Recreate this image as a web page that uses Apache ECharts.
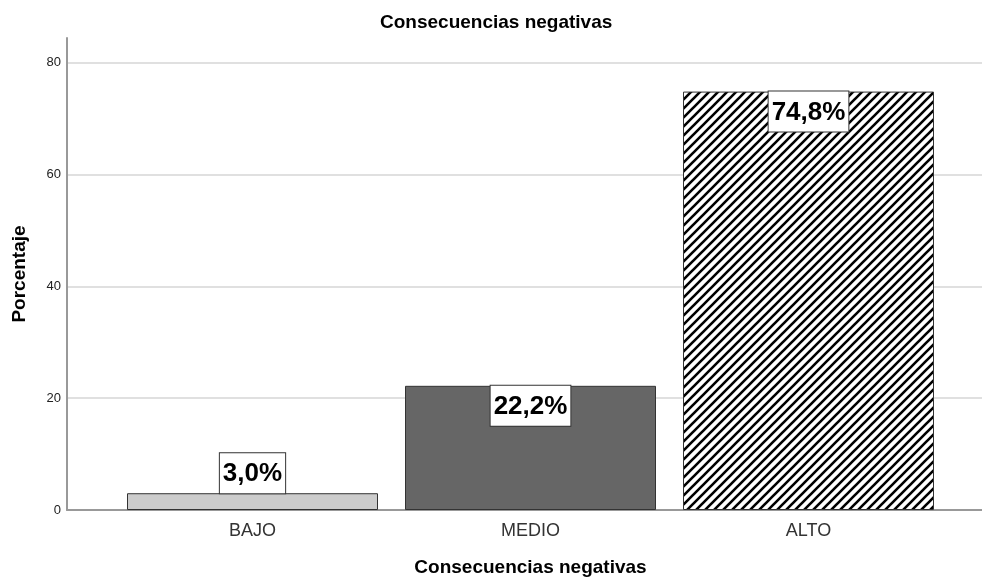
<!DOCTYPE html>
<html>
<head>
<meta charset="utf-8">
<script src="https://cdn.jsdelivr.net/npm/echarts@6/dist/echarts.min.js"></script>
<style>
html,body{margin:0;padding:0;background:#fff;}
#chart{width:982px;height:577px;}
</style>
</head>
<body>
<div id="chart"></div>
<script>
// ---- data ----
const categories = ['BAJO', 'MEDIO', 'ALTO'];
const values = [3.0, 22.2, 74.8];
const yTicks = [0, 20, 40, 60, 80];
const chartTitle = 'Consecuencias negativas';
const xAxisTitle = 'Consecuencias negativas';
const yAxisTitle = 'Porcentaje';

// ---- styles ----
function hatch() {
  const c = document.createElement('canvas');
  const s = 9;
  c.width = s; c.height = s;
  const g = c.getContext('2d');
  g.fillStyle = '#fff';
  g.fillRect(0, 0, s, s);
  g.strokeStyle = '#000';
  g.lineWidth = 2.6;
  g.beginPath();
  g.moveTo(-s, s); g.lineTo(s, -s);
  g.moveTo(0, s); g.lineTo(s, 0);
  g.moveTo(0, 2 * s); g.lineTo(2 * s, 0);
  g.stroke();
  return c;
}
const fills = ['#cccccc', '#666666', { image: hatch(), repeat: 'repeat' }];
const FONT = 'Liberation Sans, Arial, sans-serif';

const chart = echarts.init(document.getElementById('chart'), null, { renderer: 'canvas' });

const barData = values.map((v, i) => ({
  value: v,
  itemStyle: { color: fills[i], borderColor: '#333', borderWidth: 1 },
  label: { position: v < 10 ? 'top' : 'insideTop', distance: 0 }
}));

const option = {
  animation: false,
  backgroundColor: '#fff',
  title: {
    text: chartTitle,
    left: 380, top: 13, padding: 0,
    textStyle: { fontFamily: FONT, fontSize: 19, fontWeight: 'bold', color: '#000' }
  },
  grid: [
    { left: 67, right: 0, top: 38, bottom: 67, containLabel: false, outerBoundsMode: 'none' },
    { left: 67, right: 0, top: 62.5, bottom: 67, containLabel: false, outerBoundsMode: 'none' },
    { left: 113.5, width: 834, top: 62.5, bottom: 67, containLabel: false, outerBoundsMode: 'none' }
  ],
  xAxis: [
    { gridIndex: 0, type: 'value', min: 0, max: 1, show: false },
    { gridIndex: 1, type: 'value', min: 0, max: 1,
      axisLine: { show: true, onZero: false, lineStyle: { color: '#999', width: 2 } },
      axisTick: { show: false }, axisLabel: { show: false }, splitLine: { show: false } },
    { gridIndex: 2, type: 'category', data: categories,
      axisLine: { show: false }, axisTick: { show: false }, splitLine: { show: false },
      axisLabel: { fontFamily: FONT, fontSize: 18, color: '#333', margin: 12 },
      name: xAxisTitle, nameLocation: 'middle', nameGap: 48,
      nameTextStyle: { fontFamily: FONT, fontSize: 19, fontWeight: 'bold', color: '#000' } }
  ],
  yAxis: [
    { gridIndex: 0, type: 'value', min: 0, max: 1,
      axisLine: { show: true, lineStyle: { color: '#999', width: 2 } },
      axisTick: { show: false }, axisLabel: { show: false }, splitLine: { show: false },
      name: yAxisTitle, nameLocation: 'middle', nameGap: 38, nameRotate: 90,
      nameTextStyle: { fontFamily: FONT, fontSize: 19, fontWeight: 'bold', color: '#000' } },
    { gridIndex: 1, type: 'value', min: yTicks[0], max: yTicks[yTicks.length - 1], interval: 20,
      axisLine: { show: false }, axisTick: { show: false },
      axisLabel: { fontFamily: FONT, fontSize: 13, color: '#222', margin: 6 },
      splitLine: { show: true, lineStyle: { color: '#d6d6d6', width: 1.5 } } },
    { gridIndex: 2, type: 'value', min: yTicks[0], max: yTicks[yTicks.length - 1], show: false }
  ],
  series: [{
    type: 'bar',
    xAxisIndex: 2, yAxisIndex: 2,
    barWidth: 251,
    data: barData,
    label: {
      show: true,
      formatter: p => p.value.toFixed(1).replace('.', ',') + '%',
      fontFamily: FONT, fontSize: 26, fontWeight: 'bold', color: '#000',
      backgroundColor: '#fff', borderColor: '#333', borderWidth: 1,
      padding: [8, 3, 6, 3], lineHeight: 26
    }
  }]
};
chart.setOption(option);
</script>
</body>
</html>
